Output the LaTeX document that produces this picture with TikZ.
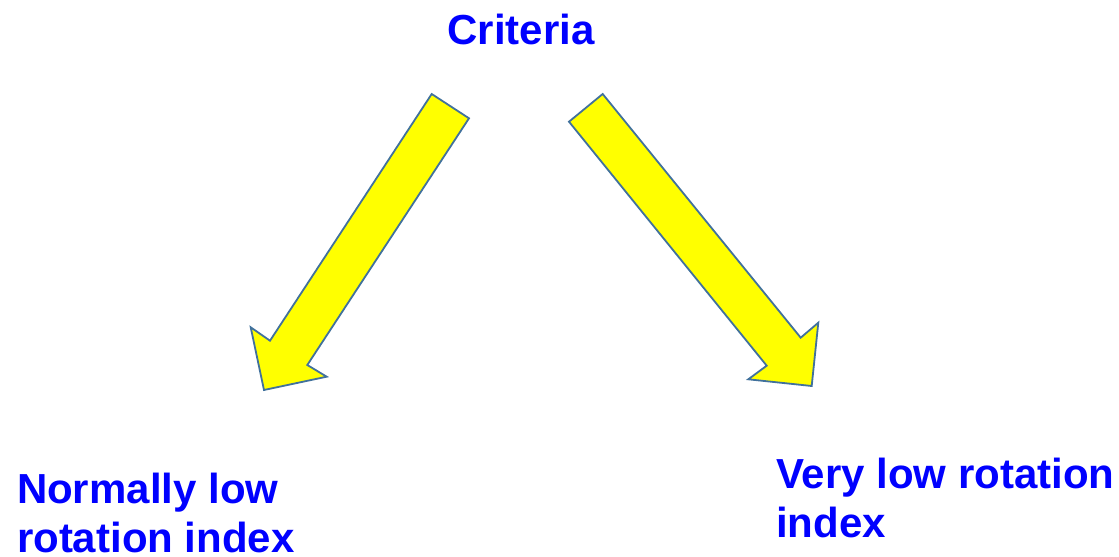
\documentclass[tikz,border=0pt]{standalone}
\usepackage{fontspec}
\setmainfont{Liberation Sans}
\definecolor{labelblue}{RGB}{0,0,255}
\definecolor{arrowfill}{RGB}{255,255,0}
\definecolor{arrowedge}{RGB}{65,113,156}
\begin{document}
\begin{tikzpicture}[x=1bp,y=-1bp,
  label/.style={text=labelblue,font=\fontsize{42bp}{49bp}\selectfont\bfseries,
    inner sep=0pt,outer sep=0pt,align=left},
  blockarrow/.style={fill=arrowfill,draw=arrowedge,line width=1.8bp,line join=miter}]
\useasboundingbox (0,0) rectangle (1119,557);
% headings (base anchor sits on the last line of a two-line label)
\node[label,anchor=base] (crit) at (521,45) {Criteria};
\node[label,anchor=base west] (left) at (17,552) {Normally low\\rotation index};
\node[label,anchor=base west] (right) at (776,537) {Very low rotation\\index};
% left block arrow
\draw[blockarrow] (431.7,94) -- (469,118.3) -- (307.3,365) -- (326.7,376.7)
  -- (264,390) -- (250.7,327.3) -- (270,340.7) -- cycle;
% right block arrow
\draw[blockarrow] (602.7,94) -- (569,121.7) -- (766.7,365.7) -- (748.3,379.3)
  -- (811.7,386) -- (818.3,322.7) -- (800.7,337.7) -- cycle;
\end{tikzpicture}
\end{document}
